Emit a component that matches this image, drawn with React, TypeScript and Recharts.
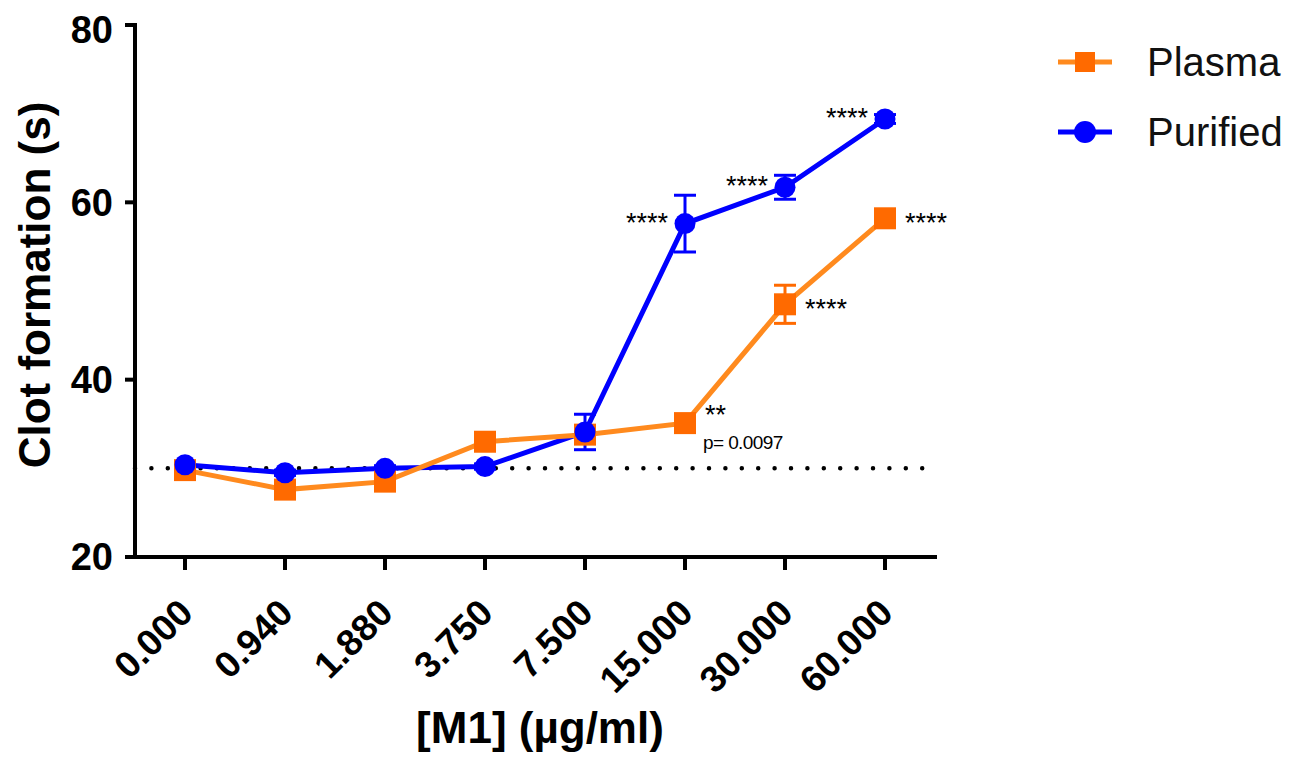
import React from "react";
import {
  LineChart,
  Line,
  XAxis,
  YAxis,
  ReferenceLine,
  ErrorBar,
  LabelList,
  Legend,
} from "recharts";

const doses = ["0.000", "0.940", "1.880", "3.750", "7.500", "15.000", "30.000", "60.000"];
const plasmaMean = [29.8, 27.6, 28.5, 33.0, 33.8, 35.1, 48.5, 58.2];
const plasmaErr = [0.5, 0.5, 0.5, 0.5, 0.6, 0.5, 2.15, 0.6];
const purifiedMean = [30.4, 29.5, 30.0, 30.2, 34.1, 57.6, 61.7, 69.4];
const purifiedErr = [0.3, 0.3, 0.3, 0.3, 2.0, 3.2, 1.35, 0.5];
const plasmaSig = ["", "", "", "", "", "**", "****", "****"];
const plasmaP = ["", "", "", "", "", "p= 0.0097", "", ""];
const purifiedSig = ["", "", "", "", "", "****", "****", "****"];
const yTicks = [20, 40, 60, 80];
const baseline = 30;

const FONT = "'Liberation Sans', Arial, Helvetica, sans-serif";
const ORANGE_LINE = "#FF8A1E";
const ORANGE_MARK = "#FF6A00";
const BLUE = "#0000FF";

const data = doses.map((d, i) => ({
  dose: d,
  plasma: plasmaMean[i],
  plasmaErr: plasmaErr[i],
  plasmaSig: plasmaSig[i],
  plasmaP: plasmaP[i],
  purified: purifiedMean[i],
  purifiedErr: purifiedErr[i],
  purifiedSig: purifiedSig[i],
}));

function XTick(props: any) {
  const { x, y, payload } = props;
  return (
    <text
      transform={`translate(${x + 10},${y + 43}) rotate(-45)`}
      textAnchor="end"
      fontFamily={FONT}
      fontWeight="bold"
      fontSize={37}
      fill="#000"
    >
      {payload.value}
    </text>
  );
}

function SquareDot(props: any) {
  const { cx, cy, index } = props;
  if (cx == null || cy == null) return <g key={`sq-${index}`} />;
  return <rect key={`sq-${index}`} x={cx - 11} y={cy - 11} width={22} height={22} fill={ORANGE_MARK} />;
}

function CircleDot(props: any) {
  const { cx, cy, index } = props;
  if (cx == null || cy == null) return <g key={`ci-${index}`} />;
  return <circle key={`ci-${index}`} cx={cx} cy={cy} r={10.5} fill={BLUE} />;
}

function PurifiedSigLabel(props: any) {
  const { x, y, value } = props;
  if (!value) return null;
  return (
    <text x={x - 17} y={y + 8} textAnchor="end" fontFamily={FONT} fontSize={27} fill="#000">
      {value}
    </text>
  );
}

function PlasmaSigLabel(props: any) {
  const { x, y, value, index } = props;
  if (!value) return null;
  const p = plasmaP[index];
  return (
    <g>
      <text x={x + 20} y={y + (p ? 1 : 14)} fontFamily={FONT} fontSize={27} fill="#000">
        {value}
      </text>
      {p ? (
        <text x={x + 18} y={y + 26} fontFamily={FONT} fontSize={19} letterSpacing={-0.6} fill="#000">
          {p}
        </text>
      ) : null}
    </g>
  );
}

function LegendBox() {
  const rows = [
    { name: "Plasma", line: ORANGE_LINE, shape: "square" },
    { name: "Purified", line: BLUE, shape: "circle" },
  ];
  return (
    <div style={{ fontFamily: FONT }}>
      {rows.map((r) => (
        <div key={r.name} style={{ display: "flex", alignItems: "center", height: 70 }}>
          <svg width={90} height={40}>
            <line x1={18} y1={20} x2={72} y2={20} stroke={r.line} strokeWidth={5} />
            {r.shape === "square" ? (
              <rect x={35} y={10} width={20} height={20} fill={ORANGE_MARK} />
            ) : (
              <circle cx={45} cy={20} r={11} fill={BLUE} />
            )}
          </svg>
          <span style={{ fontSize: 40, marginLeft: 17, color: "#111" }}>{r.name}</span>
        </div>
      ))}
    </div>
  );
}

export default function App() {
  return (
    <LineChart
      width={1290}
      height={750}
      data={data}
      margin={{ top: 17, right: 363, bottom: 171, left: 0 }}
    >
      <XAxis
        dataKey="dose"
        type="category"
        padding={{ left: 50, right: 50 }}
        axisLine={{ stroke: "#000", strokeWidth: 4, strokeLinecap: "square" }}
        tickLine={{ stroke: "#000", strokeWidth: 4 }}
        tickSize={13}
        tick={<XTick />}
        interval={0}
        label={{
          value: "[M1] (µg/ml)",
          content: () => (
            <text
              x={532}
              y={735}
              textAnchor="middle"
              fontFamily={FONT}
              fontWeight="bold"
              fontSize={44}
              fill="#000"
            >
              [M1] (µg/ml)
            </text>
          ),
        }}
      />
      <YAxis
        width={127}
        domain={[20, 80]}
        ticks={yTicks}
        allowDataOverflow
        axisLine={{ stroke: "#000", strokeWidth: 4, strokeLinecap: "square" }}
        tickLine={{ stroke: "#000", strokeWidth: 4 }}
        tickSize={10}
        tickMargin={12}
        tick={{ fontFamily: FONT, fontWeight: "bold", fontSize: 38, fill: "#000" }}
        label={{
          value: "Clot formation (s)",
          content: () => (
            <text
              transform="translate(42,277) rotate(-90)"
              textAnchor="middle"
              fontFamily={FONT}
              fontWeight="bold"
              fontSize={44}
              fill="#000"
            >
              Clot formation (s)
            </text>
          ),
        }}
      />
      <ReferenceLine
        y={baseline}
        stroke="#000"
        strokeWidth={4.5}
        strokeDasharray="0 16.4"
        strokeLinecap="round"
        zIndex={300}
      />
      <Line
        dataKey="purified"
        stroke={BLUE}
        strokeWidth={5}
        dot={false}
        activeDot={false}
        legendType="none"
        isAnimationActive={false}
      />
      <Line
        dataKey="plasma"
        stroke={ORANGE_LINE}
        strokeWidth={5}
        dot={false}
        activeDot={false}
        legendType="none"
        isAnimationActive={false}
      />
      <Line
        name="Plasma"
        dataKey="plasma"
        stroke="none"
        dot={<SquareDot />}
        activeDot={false}
        isAnimationActive={false}
      >
        <ErrorBar dataKey="plasmaErr" direction="y" width={11} stroke={ORANGE_MARK} strokeWidth={3} />
        <LabelList dataKey="plasmaSig" content={<PlasmaSigLabel />} />
      </Line>
      <Line
        name="Purified"
        dataKey="purified"
        stroke="none"
        dot={<CircleDot />}
        activeDot={false}
        isAnimationActive={false}
      >
        <ErrorBar dataKey="purifiedErr" direction="y" width={11} stroke={BLUE} strokeWidth={3} />
        <LabelList dataKey="purifiedSig" content={<PurifiedSigLabel />} />
      </Line>
      <Legend
        layout="vertical"
        align="center"
        verticalAlign="middle"
        content={() => <LegendBox />}
        wrapperStyle={{ left: 1032, top: 19, width: 260, height: 140 }}
      />
    </LineChart>
  );
}
